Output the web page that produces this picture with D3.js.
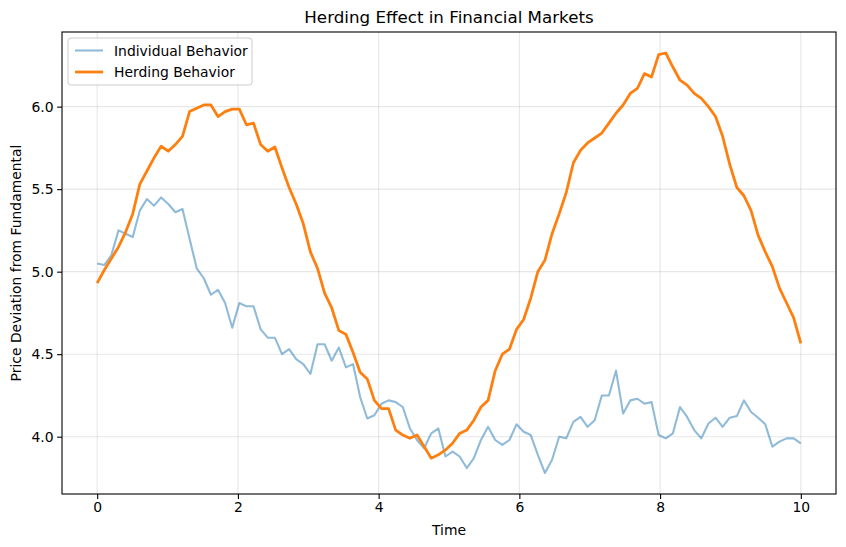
<!DOCTYPE html>
<html>
<head>
<meta charset="utf-8">
<script src="https://cdn.jsdelivr.net/npm/d3@7"></script>
<style>
  body { margin: 0; background: #fff; }
  svg { display: block; font-family: "DejaVu Sans", sans-serif; }
</style>
</head>
<body>
<svg id="chart" width="846" height="547"></svg>
<script>
const title = "Herding Effect in Financial Markets";
const xLabel = "Time";
const yLabel = "Price Deviation from Fundamental";
const seriesNames = ["Individual Behavior", "Herding Behavior"];
const xTicks = [0, 2, 4, 6, 8, 10];
const yTicks = [4.0, 4.5, 5.0, 5.5, 6.0];

const individual = [
  5.05, 5.04, 5.10, 5.25, 5.23, 5.21, 5.37, 5.44, 5.40, 5.45,
  5.41, 5.36, 5.38, 5.20, 5.02, 4.96, 4.86, 4.89, 4.81, 4.66,
  4.81, 4.79, 4.79, 4.65, 4.60, 4.60, 4.50, 4.53, 4.47, 4.44,
  4.38, 4.56, 4.56, 4.46, 4.54, 4.42, 4.44, 4.24, 4.11, 4.13,
  4.20, 4.22, 4.21, 4.18, 4.05, 3.98, 3.93, 4.02, 4.05, 3.88,
  3.91, 3.88, 3.81, 3.87, 3.98, 4.06, 3.98, 3.95, 3.98, 4.075,
  4.03, 4.01, 3.89, 3.78, 3.86, 4.00, 3.99, 4.09, 4.12, 4.06,
  4.10, 4.25, 4.25, 4.40, 4.14, 4.22, 4.23, 4.20, 4.21, 4.01,
  3.99, 4.02, 4.18, 4.12, 4.04, 3.99, 4.08, 4.115, 4.06, 4.115,
  4.125, 4.22, 4.15, 4.115, 4.075, 3.94, 3.97, 3.99, 3.99, 3.96
];

const herding = [
  4.93, 5.01, 5.08, 5.15, 5.24, 5.35, 5.53, 5.61, 5.69, 5.76,
  5.73, 5.77, 5.82, 5.97, 5.99, 6.01, 6.01, 5.94, 5.97, 5.985,
  5.985, 5.89, 5.90, 5.77, 5.73, 5.755, 5.63, 5.51, 5.41, 5.29,
  5.12, 5.02, 4.87, 4.78, 4.644, 4.62, 4.51, 4.39, 4.35, 4.22,
  4.17, 4.17, 4.04, 4.01, 3.99, 4.01, 3.94, 3.87, 3.89, 3.92,
  3.96, 4.02, 4.04, 4.10, 4.18, 4.22, 4.40, 4.50, 4.53, 4.65,
  4.71, 4.84, 5.00, 5.07, 5.23, 5.35, 5.48, 5.66, 5.735, 5.78,
  5.81, 5.84, 5.90, 5.96, 6.01, 6.08, 6.11, 6.20, 6.18, 6.315,
  6.325, 6.24, 6.16, 6.13, 6.08, 6.05, 6.00, 5.94, 5.82, 5.65,
  5.51, 5.46, 5.37, 5.22, 5.12, 5.03, 4.90, 4.81, 4.72, 4.565
];

const times = individual.map((_, i) => i * 10 / (individual.length - 1));

const W = 846, H = 547;
const m = { left: 62, right: 10, top: 32, bottom: 53 };
const pw = W - m.left - m.right, ph = H - m.top - m.bottom;

const allVals = individual.concat(herding);
const ymin = d3.min(allVals), ymax = d3.max(allVals);
const ypad = (ymax - ymin) * 0.05;

const x = d3.scaleLinear().domain([-0.5, 10.5]).range([m.left, m.left + pw]);
const y = d3.scaleLinear().domain([ymin - ypad, ymax + ypad]).range([m.top + ph, m.top]);

const svg = d3.select("#chart");
svg.append("rect").attr("width", W).attr("height", H).attr("fill", "#fff");

// grid
const grid = svg.append("g").attr("stroke", "#b0b0b0").attr("stroke-opacity", 0.3).attr("stroke-width", 1.1);
grid.selectAll("line.vx").data(xTicks).join("line")
  .attr("x1", d => x(d)).attr("x2", d => x(d))
  .attr("y1", m.top).attr("y2", m.top + ph);
grid.selectAll("line.hy").data(yTicks).join("line")
  .attr("x1", m.left).attr("x2", m.left + pw)
  .attr("y1", d => y(d)).attr("y2", d => y(d));

// lines
const line = d3.line().x((d, i) => x(times[i])).y(d => y(d));
svg.append("clipPath").attr("id", "clip").append("rect")
  .attr("x", m.left).attr("y", m.top).attr("width", pw).attr("height", ph);

svg.append("path").datum(individual)
  .attr("clip-path", "url(#clip)")
  .attr("fill", "none").attr("stroke", "#1f77b4").attr("stroke-opacity", 0.5)
  .attr("stroke-width", 2.08).attr("stroke-linejoin", "round").attr("stroke-linecap", "butt")
  .attr("d", line);
svg.append("path").datum(herding)
  .attr("clip-path", "url(#clip)")
  .attr("fill", "none").attr("stroke", "#ff7f0e")
  .attr("stroke-width", 2.78).attr("stroke-linejoin", "round").attr("stroke-linecap", "butt")
  .attr("d", line);

// axes
const xAxis = d3.axisBottom(x).tickValues(xTicks).tickFormat(d3.format("d")).tickSize(4.9).tickPadding(3.5);
const yAxis = d3.axisLeft(y).tickValues(yTicks).tickFormat(d3.format(".1f")).tickSize(4.9).tickPadding(3.5);

const gx = svg.append("g").attr("transform", `translate(0,${m.top + ph})`).call(xAxis);
const gy = svg.append("g").attr("transform", `translate(${m.left},0)`).call(yAxis);
[gx, gy].forEach(g => {
  g.select(".domain").remove();
  g.selectAll(".tick line").attr("stroke", "#000").attr("stroke-width", 1.1);
  g.selectAll(".tick text").attr("fill", "#000").style("font-size", "13.9px").style("font-family", "DejaVu Sans");
});

// frame
svg.append("rect").attr("x", m.left).attr("y", m.top).attr("width", pw).attr("height", ph)
  .attr("fill", "none").attr("stroke", "#000").attr("stroke-width", 1.1);

// title & labels
svg.append("text").attr("x", m.left + pw / 2).attr("y", 23).attr("text-anchor", "middle")
  .style("font-size", "16.7px").attr("fill", "#000").text(title);
svg.append("text").attr("x", m.left + pw / 2).attr("y", 535).attr("text-anchor", "middle")
  .style("font-size", "13.9px").attr("fill", "#000").text(xLabel);
svg.append("text").attr("transform", `translate(21,${m.top + ph / 2}) rotate(-90)`)
  .attr("text-anchor", "middle").style("font-size", "13.9px").attr("fill", "#000").text(yLabel);

// legend
const lg = svg.append("g");
lg.append("rect").attr("x", 68).attr("y", 38).attr("width", 184).attr("height", 47)
  .attr("rx", 3).attr("fill", "#fff").attr("fill-opacity", 0.8)
  .attr("stroke", "#cccccc").attr("stroke-width", 1);
const legendItems = [
  { name: seriesNames[0], color: "#1f77b4", op: 0.5, w: 2.08 },
  { name: seriesNames[1], color: "#ff7f0e", op: 1, w: 2.78 }
];
legendItems.forEach((d, i) => {
  const yy = 50.5 + i * 21.5;
  lg.append("line").attr("x1", 75).attr("x2", 103).attr("y1", yy).attr("y2", yy)
    .attr("stroke", d.color).attr("stroke-opacity", d.op).attr("stroke-width", d.w);
  lg.append("text").attr("x", 114).attr("y", yy + 5).style("font-size", "13.9px")
    .attr("fill", "#000").text(d.name);
});
</script>
</body>
</html>
